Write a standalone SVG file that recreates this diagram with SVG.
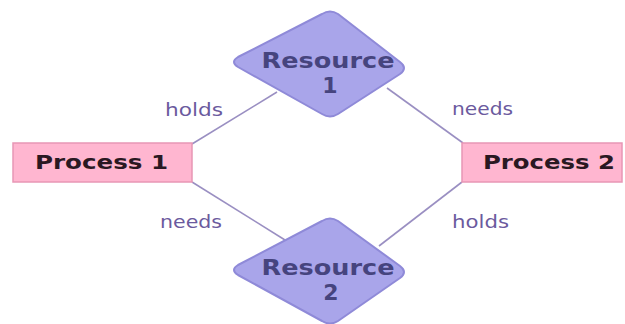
<svg xmlns="http://www.w3.org/2000/svg" width="625" height="324" viewBox="0 0 625 324">
<style>
.proc{fill:#ffb6d0;stroke:#e896b5;stroke-width:1.5}
.res{fill:#a9a5ea;stroke:#8f8ad8;stroke-width:2;stroke-linejoin:round}
.ptxt{font-family:"DejaVu Sans",sans-serif;font-weight:bold;font-size:20px;fill:#2a1822}
.rtxt{font-family:"DejaVu Sans",sans-serif;font-weight:bold;font-size:22px;fill:#46447e;text-anchor:middle}
.lbl{font-family:"DejaVu Sans",sans-serif;font-size:17px;fill:#6b5a9e}
.edge{stroke:#9a8fc2;stroke-width:1.6;fill:none}
</style>
<rect width="625" height="324" fill="#ffffff"/>
<g id="connectors">
<line class="edge" x1="192" y1="144" x2="277" y2="92"/>
<line class="edge" x1="387" y1="88" x2="463" y2="143"/>
<line class="edge" x1="192" y1="182" x2="285" y2="240"/>
<line class="edge" x1="379" y1="246" x2="462" y2="182"/>
<text class="lbl" x="165" y="116" textLength="58" lengthAdjust="spacingAndGlyphs">holds</text>
<text class="lbl" x="452" y="115" textLength="61" lengthAdjust="spacingAndGlyphs">needs</text>
<text class="lbl" x="160" y="228" textLength="62" lengthAdjust="spacingAndGlyphs">needs</text>
<text class="lbl" x="452" y="228" textLength="57" lengthAdjust="spacingAndGlyphs">holds</text>
</g>
<g id="resource1">
<path class="res" d="M322,14 Q330,9 338,14 L400,62 Q408,68 400,74 L338,114 Q330,119 322,114 L238,67 Q230,62 238,57 Z"/>
<text class="rtxt" x="328" y="68" textLength="133" lengthAdjust="spacingAndGlyphs">Resource</text>
<text class="rtxt" x="330" y="93">1</text>
</g>
<g id="resource2">
<path class="res" d="M322,221 Q330,216 338,221 L400,266 Q408,272 400,278 L338,321 Q330,326 322,321 L238,275 Q230,270 238,265 Z"/>
<text class="rtxt" x="328" y="275" textLength="133" lengthAdjust="spacingAndGlyphs">Resource</text>
<text class="rtxt" x="331" y="300">2</text>
</g>
<g id="process1">
<rect class="proc" x="13" y="143" width="179" height="39"/>
<text class="ptxt" x="35" y="169" textLength="133" lengthAdjust="spacingAndGlyphs">Process 1</text>
</g>
<g id="process2">
<rect class="proc" x="462" y="143" width="160" height="39"/>
<text class="ptxt" x="483" y="169" textLength="132" lengthAdjust="spacingAndGlyphs">Process 2</text>
</g>
</svg>
